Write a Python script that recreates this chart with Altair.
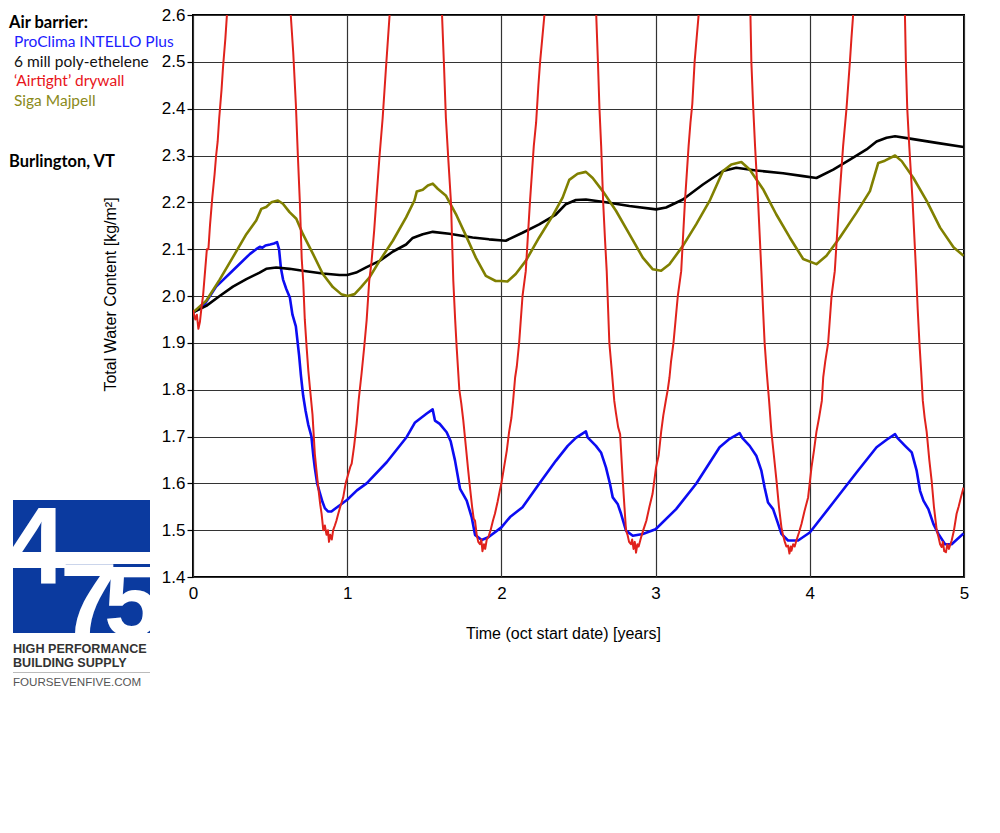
import altair as alt
import pandas as pd

# ---------------- data ----------------
# ProClima INTELLO Plus (blue)
blue_t = [0.0, 0.065, 0.15, 0.26, 0.37, 0.41, 0.433, 0.45, 0.47, 0.50, 0.525, 0.545, 0.558, 0.57, 0.584,
          0.605, 0.628, 0.645, 0.667, 0.688, 0.70, 0.714, 0.73, 0.747, 0.768, 0.78, 0.79, 0.805, 0.822, 0.84,
          0.855, 0.875, 0.898, 0.93, 0.963, 1.0, 1.063, 1.126, 1.256, 1.386, 1.44, 1.516, 1.554, 1.569, 1.60,
          1.645, 1.671, 1.699, 1.732, 1.775, 1.807, 1.829, 1.872, 1.915, 2.0, 2.056, 2.137, 2.245, 2.353, 2.43,
          2.483, 2.548, 2.559, 2.613, 2.646, 2.678, 2.704, 2.722, 2.754, 2.776, 2.808, 2.852, 2.917, 3.0, 3.133,
          3.263, 3.415, 3.48, 3.545, 3.562, 3.61, 3.653, 3.686, 3.707, 3.729, 3.762, 3.788, 3.816, 3.859, 3.924,
          4.0, 4.152, 4.303, 4.433, 4.498, 4.553, 4.568, 4.618, 4.661, 4.693, 4.715, 4.737, 4.769, 4.802, 4.834,
          4.877, 4.92, 4.997]
blue_v = [1.965, 1.977, 2.02, 2.055, 2.09, 2.10, 2.105, 2.103, 2.108, 2.11, 2.112, 2.115, 2.10, 2.06, 2.035,
          2.015, 1.997, 1.96, 1.935, 1.873, 1.83, 1.788, 1.755, 1.726, 1.70, 1.66, 1.633, 1.60, 1.58, 1.56,
          1.547, 1.54, 1.54, 1.548, 1.556, 1.565, 1.585, 1.60, 1.645, 1.699, 1.73, 1.749, 1.758, 1.734, 1.727,
          1.709, 1.69, 1.649, 1.588, 1.563, 1.528, 1.49, 1.479, 1.485, 1.506, 1.528, 1.549, 1.599, 1.648, 1.68,
          1.697, 1.711, 1.698, 1.68, 1.666, 1.634, 1.599, 1.57, 1.556, 1.535, 1.499, 1.488, 1.492, 1.502, 1.545,
          1.599, 1.677, 1.695, 1.707, 1.697, 1.68, 1.659, 1.627, 1.591, 1.559, 1.545, 1.52, 1.492, 1.478, 1.478,
          1.495, 1.559, 1.623, 1.677, 1.693, 1.705, 1.697, 1.68, 1.666, 1.627, 1.584, 1.563, 1.545, 1.513, 1.492,
          1.47, 1.47, 1.493]

# 6 mill poly-ethelene (black)
black_t = [0.0, 0.086, 0.173, 0.259, 0.346, 0.432, 0.475, 0.54, 0.626, 0.734, 0.842, 0.95, 1.0, 1.058, 1.123,
           1.21, 1.297, 1.382, 1.425, 1.49, 1.555, 1.662, 1.813, 1.92, 2.028, 2.137, 2.245, 2.353, 2.418, 2.483,
           2.548, 2.678, 2.83, 3.003, 3.068, 3.177, 3.307, 3.437, 3.523, 3.653, 3.827, 3.957, 4.043, 4.152, 4.26,
           4.368, 4.433, 4.498, 4.553, 4.65, 4.823, 4.997]
black_v = [1.965, 1.979, 2.0, 2.02, 2.036, 2.05, 2.058, 2.061, 2.058, 2.053, 2.048, 2.045, 2.045, 2.05, 2.061,
           2.075, 2.095, 2.11, 2.124, 2.132, 2.137, 2.133, 2.125, 2.121, 2.118, 2.135, 2.153, 2.174, 2.196, 2.205,
           2.206, 2.2, 2.192, 2.185, 2.189, 2.206, 2.238, 2.267, 2.274, 2.268, 2.262, 2.256, 2.252, 2.27, 2.291,
           2.313, 2.33, 2.338, 2.341, 2.336, 2.327, 2.318]

# 'Airtight' drywall (red) - values above 2.6 run off the top of the plot
red_t = [0.0, 0.015, 0.025, 0.035, 0.045, 0.055, 0.065, 0.08, 0.09, 0.1, 0.11, 0.125, 0.14, 0.15, 0.16, 0.17,
         0.185, 0.195, 0.21, 0.22, 0.235, 0.43, 0.62, 0.634, 0.65, 0.667, 0.68, 0.693, 0.705, 0.715, 0.725,
         0.737, 0.748, 0.758, 0.775, 0.79, 0.80, 0.812, 0.825, 0.834, 0.845, 0.855, 0.866, 0.875, 0.882, 0.89,
         0.9, 0.909, 0.92, 0.93, 0.942, 0.955, 0.974, 0.99, 1.007, 1.02, 1.029, 1.045, 1.061, 1.075, 1.093,
         1.11, 1.126, 1.143, 1.157, 1.175, 1.19, 1.21, 1.23, 1.25, 1.275, 1.29, 1.45, 1.60, 1.615, 1.628, 1.64,
         1.656, 1.673, 1.688, 1.70, 1.71, 1.727, 1.74, 1.753, 1.77, 1.784, 1.796, 1.81, 1.82, 1.829, 1.84, 1.85,
         1.861, 1.87, 1.877, 1.887, 1.895, 1.905, 1.915, 1.93, 1.945, 1.958, 1.975, 1.99, 2.0, 2.017, 2.035,
         2.05, 2.065, 2.076, 2.089, 2.1, 2.115, 2.137, 2.158, 2.185, 2.21, 2.225, 2.24, 2.251, 2.265, 2.279,
         2.295, 2.45, 2.60, 2.615, 2.626, 2.636, 2.647, 2.66, 2.672, 2.683, 2.70, 2.716, 2.732, 2.743, 2.757,
         2.77, 2.787, 2.798, 2.808, 2.818, 2.828, 2.84, 2.848, 2.857, 2.865, 2.873, 2.882, 2.89, 2.906, 2.92,
         2.94, 2.96, 2.98, 3.003, 3.02, 3.036, 3.05, 3.068, 3.079, 3.09, 3.1, 3.116, 3.13, 3.144, 3.166, 3.19,
         3.214, 3.226, 3.238, 3.253, 3.266, 3.279, 3.295, 3.45, 3.60, 3.615, 3.621, 3.632, 3.645, 3.665, 3.686,
         3.697, 3.707, 3.72, 3.736, 3.751, 3.767, 3.784, 3.80, 3.816, 3.826, 3.838, 3.848, 3.859, 3.868, 3.876,
         3.881, 3.892, 3.902, 3.913, 3.93, 3.946, 3.965, 3.989, 4.011, 4.027, 4.043, 4.06, 4.078, 4.087, 4.1,
         4.119, 4.141, 4.162, 4.19, 4.216, 4.238, 4.26, 4.27, 4.281, 4.295, 4.45, 4.60, 4.617, 4.623, 4.632,
         4.645, 4.667, 4.689, 4.70, 4.711, 4.722, 4.733, 4.745, 4.758, 4.775, 4.79, 4.805, 4.823, 4.835, 4.845,
         4.855, 4.863, 4.872, 4.883, 4.892, 4.902, 4.92, 4.935, 4.952, 4.965, 4.98, 4.997]
red_v = [1.97, 1.95, 1.96, 1.93, 1.945, 1.975, 2.0, 2.06, 2.1, 2.1, 2.15, 2.21, 2.26, 2.3, 2.33, 2.38,
         2.44, 2.49, 2.55, 2.6, 2.67, 3.3, 2.68, 2.6, 2.52, 2.41, 2.3, 2.2, 2.08, 2.03, 1.95,
         1.89, 1.84, 1.805, 1.747, 1.663, 1.63, 1.592, 1.555, 1.535, 1.50, 1.51, 1.49, 1.50, 1.475, 1.49,
         1.48, 1.50, 1.51, 1.52, 1.535, 1.55, 1.57, 1.6, 1.62, 1.635, 1.642, 1.68, 1.727, 1.78, 1.834,
         1.89, 1.948, 2.033, 2.07, 2.14, 2.21, 2.3, 2.38, 2.48, 2.6, 2.67, 3.3, 2.68, 2.6, 2.49, 2.38,
         2.29, 2.2, 2.033, 1.95, 1.89, 1.80, 1.77, 1.734, 1.677, 1.63, 1.592, 1.55, 1.525, 1.52, 1.49, 1.475,
         1.47, 1.48, 1.455, 1.47, 1.46, 1.48, 1.485, 1.50, 1.52, 1.535, 1.56, 1.585, 1.6, 1.634, 1.67,
         1.71, 1.74, 1.776, 1.826, 1.85, 1.9, 2.0, 2.053, 2.2, 2.32, 2.37, 2.45, 2.5, 2.55, 2.6,
         2.67, 3.3, 2.68, 2.6, 2.5, 2.4, 2.32, 2.2, 2.12, 2.053, 1.9, 1.84, 1.776, 1.75, 1.72,
         1.705, 1.606, 1.55, 1.5, 1.49, 1.475, 1.47, 1.48, 1.46, 1.475, 1.452, 1.47, 1.465, 1.485, 1.50,
         1.52, 1.55, 1.577, 1.634, 1.66, 1.71, 1.745, 1.78, 1.8, 1.826, 1.86, 1.9, 1.95, 2.0, 2.053, 2.2,
         2.32, 2.37, 2.41, 2.5, 2.55, 2.6, 2.67, 3.3, 2.68, 2.6, 2.5, 2.41, 2.32, 2.2, 2.053,
         1.97, 1.9, 1.84, 1.776, 1.71, 1.66, 1.606, 1.55, 1.506, 1.49, 1.475, 1.465, 1.467, 1.45, 1.465,
         1.456, 1.47, 1.465, 1.478, 1.495, 1.513, 1.54, 1.57, 1.634, 1.67, 1.71, 1.74, 1.776, 1.826, 1.86,
         1.9, 2.0, 2.053, 2.2, 2.32, 2.4, 2.5, 2.55, 2.6, 2.67, 3.3, 2.68, 2.6, 2.5, 2.4,
         2.32, 2.2, 2.053, 1.97, 1.9, 1.84, 1.776, 1.74, 1.71, 1.65, 1.606, 1.55, 1.5, 1.485, 1.47,
         1.464, 1.475, 1.455, 1.453, 1.47, 1.46, 1.478, 1.50, 1.535, 1.55, 1.57, 1.591]

# Siga Majpell (olive)
olive_t = [0.0, 0.086, 0.173, 0.259, 0.346, 0.41, 0.443, 0.475, 0.508, 0.551, 0.583, 0.626, 0.67, 0.713,
           0.778, 0.842, 0.907, 0.961, 1.004, 1.048, 1.09, 1.145, 1.21, 1.296, 1.382, 1.436, 1.451, 1.49,
           1.523, 1.555, 1.587, 1.641, 1.705, 1.77, 1.834, 1.899, 1.963, 2.0, 2.039, 2.093, 2.158, 2.245,
           2.332, 2.397, 2.44, 2.494, 2.548, 2.592, 2.657, 2.743, 2.83, 2.917, 2.982, 3.036, 3.09, 3.177,
           3.263, 3.35, 3.437, 3.491, 3.556, 3.61, 3.697, 3.783, 3.87, 3.957, 4.043, 4.108, 4.195, 4.303,
           4.39, 4.444, 4.487, 4.553, 4.596, 4.672, 4.758, 4.845, 4.932, 4.997]
olive_v = [1.965, 1.99, 2.035, 2.083, 2.132, 2.161, 2.186, 2.19, 2.2, 2.204, 2.197, 2.179, 2.165, 2.132,
           2.09, 2.047, 2.019, 2.004, 2.0, 2.004, 2.019, 2.04, 2.075, 2.118, 2.168, 2.204, 2.223, 2.227,
           2.236, 2.24, 2.229, 2.214, 2.175, 2.129, 2.082, 2.043, 2.032, 2.032, 2.031, 2.047, 2.075, 2.125,
           2.171, 2.21, 2.248, 2.261, 2.265, 2.252, 2.224, 2.182, 2.132, 2.082, 2.057, 2.054, 2.068, 2.107,
           2.153, 2.203, 2.267, 2.281, 2.286, 2.27, 2.228, 2.174, 2.125, 2.079, 2.068, 2.086, 2.125, 2.178,
           2.224, 2.284, 2.289, 2.3, 2.288, 2.252, 2.203, 2.146, 2.104, 2.086]

x_ticks = [0, 1, 2, 3, 4, 5]
y_ticks = [1.4, 1.5, 1.6, 1.7, 1.8, 1.9, 2.0, 2.1, 2.2, 2.3, 2.4, 2.5, 2.6]

legend_title = "Air barrier:"
legend_labels = ["ProClima INTELLO Plus", "6 mill poly-ethelene", "\u2018Airtight\u2019 drywall", "Siga Majpell"]
legend_text_colors = ["#2020ff", "#111111", "#e8141b", "#8a8a1a"]
location_label = "Burlington, VT"
logo_lines = ["HIGH PERFORMANCE", "BUILDING SUPPLY"]
logo_url = "FOURSEVENFIVE.COM"

# ---------------- chart ----------------
series = [
    ("ProClima INTELLO Plus", blue_t, blue_v, "#0c0cf2", 2.6),
    ("6 mill poly-ethelene", black_t, black_v, "#000000", 2.6),
    ("Siga Majpell", olive_t, olive_v, "#808000", 2.6),
    ("'Airtight' drywall", red_t, red_v, "#e0221c", 2.0),
]

FONT = "Liberation Sans"

x_enc = alt.X("t:Q",
              scale=alt.Scale(domain=[0, 5], nice=False),
              axis=alt.Axis(values=x_ticks, format="d", grid=True, gridColor="#333333", gridWidth=1.2,
                            tickSize=0, labelPadding=8, labelFontSize=17, labelFont=FONT, labelColor="#000",
                            labelFlush=False, domain=False,
                            title="Time (oct start date) [years]", titleFont=FONT, titleFontSize=16,
                            titleFontWeight="normal", titleColor="#000",
                            titleX=370, titleY=56, titleAlign="center", titleBaseline="middle"))
y_enc = alt.Y("v:Q",
              scale=alt.Scale(domain=[1.4, 2.6], nice=False, zero=False),
              axis=alt.Axis(values=y_ticks, format=".1f", grid=True, gridColor="#333333", gridWidth=1.2,
                            tickSize=6, tickColor="#000", tickWidth=1.2, labelPadding=2, labelFontSize=17,
                            labelFont=FONT, labelColor="#000", labelFlush=False, domain=False,
                            title="Total Water Content [kg/m\u00b2]", titleFont=FONT, titleFontSize=16,
                            titleFontWeight="normal", titleColor="#000",
                            titleX=-83, titleY=279, titleBaseline="middle"))

layers = []
for name, ts, vs, col, sw in series:
    df = pd.DataFrame({"t": ts, "v": vs, "i": list(range(len(ts)))})
    layers.append(
        alt.Chart(df).mark_line(color=col, strokeWidth=sw, clip=True, strokeJoin="round")
        .encode(x=x_enc, y=y_enc, order="i:Q")
    )

one = pd.DataFrame({"k": [0]})
OX, OY = 193, 15  # plot origin on the page


def txt(s, px, py, size, color="#000", weight="normal", font="Lato", align="left"):
    return alt.Chart(pd.DataFrame({"s": [s]})).mark_text(
        align=align, baseline="alphabetic", fontSize=size, font=font, fontWeight=weight, color=color
    ).encode(text="s:N", x=alt.value(px - OX), y=alt.value(py - OY))


def rect(x1, y1, x2, y2, color):
    return alt.Chart(one).mark_rect(color=color).encode(
        x=alt.value(x1 - OX), x2=alt.value(x2 - OX), y=alt.value(y1 - OY), y2=alt.value(y2 - OY))


# legend text
layers.append(txt(legend_title, 9, 28, 16.5, weight="bold"))
for i, (lab, col) in enumerate(zip(legend_labels, legend_text_colors)):
    layers.append(txt(lab, 14, 47 + 19.6 * i, 15.5, color=col))
layers.append(txt(location_label, 9, 167, 16.5, weight="bold"))

# logo
LOGO_BLUE = "#0b3a9f"
layers.append(rect(13, 500, 150, 633, LOGO_BLUE))
layers.append(rect(13, 552, 150, 564, "#ffffff"))
DIGIT_FONT = "Liberation Sans Narrow, Liberation Sans"
layers.append(txt("4", 5, 583, 110, color="#ffffff", weight="bold", font=DIGIT_FONT))
layers.append(txt("7", 60, 636, 104, color="#ffffff", weight="bold", font=DIGIT_FONT))
layers.append(txt("5", 104, 636, 100, color="#ffffff", weight="bold", font=DIGIT_FONT))
layers.append(rect(9, 634, 150, 641, "#ffffff"))
layers.append(txt(logo_lines[0], 13, 653, 12.6, color="#333333", weight="bold", font=FONT))
layers.append(txt(logo_lines[1], 13, 667, 12.6, color="#333333", weight="bold", font=FONT))
layers.append(rect(13, 672, 150, 673, "#bbbbbb"))
layers.append(txt(logo_url, 13, 686, 11.6, color="#555555", font=FONT))

chart = alt.layer(*layers).properties(
    width=771, height=562,
    autosize=alt.AutoSizeParams(type="none"),
    padding={"left": 185, "top": 7, "right": 25, "bottom": 230},
    background="white",
).configure_view(stroke="#000", strokeWidth=2)

chart.save("out.html", embed_options={"renderer": "svg", "actions": False})
